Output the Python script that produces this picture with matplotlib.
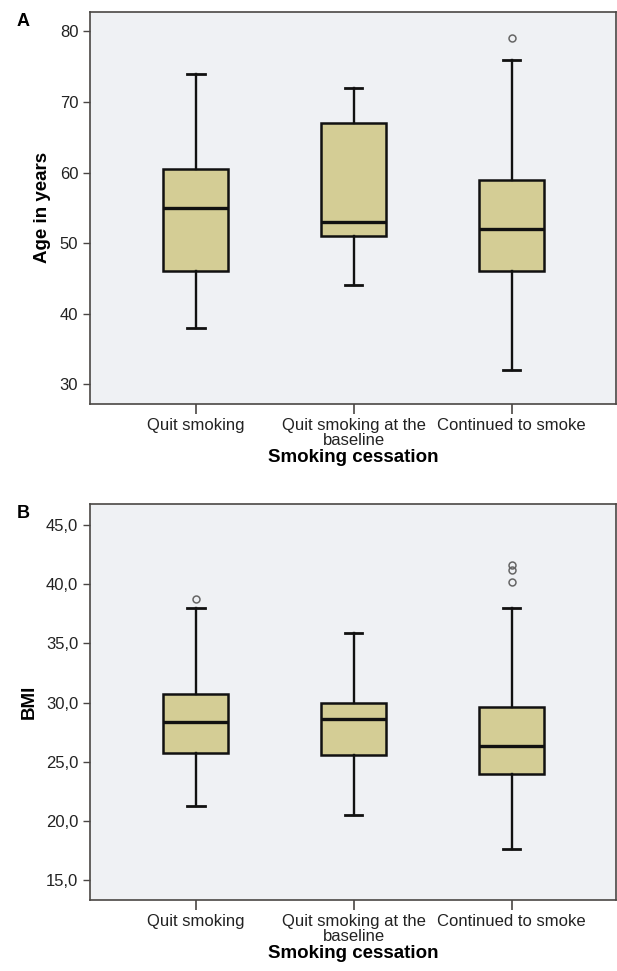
import matplotlib
matplotlib.use("Agg")
from matplotlib import pyplot as plt

plt.rcParams['font.family'] = ['Liberation Sans Narrow', 'Liberation Sans', 'DejaVu Sans']

groups = ["Quit smoking", "Quit smoking at the\nbaseline", "Continued to smoke"]

# Age in years: whisker low, Q1, median, Q3, whisker high, outliers
age_low = [38, 44, 32]
age_q1 = [46, 51, 46]
age_med = [55, 53, 52]
age_q3 = [60.5, 67, 59]
age_high = [74, 72, 76]
age_out = [[], [], [79]]

# BMI
bmi_low = [21.3, 20.5, 17.6]
bmi_q1 = [25.7, 25.6, 24.0]
bmi_med = [28.4, 28.6, 26.3]
bmi_q3 = [30.7, 30.0, 29.6]
bmi_high = [38.0, 35.9, 38.0]
bmi_out = [[38.8], [], [41.6, 41.25, 40.2]]

BOX = "#d4cd95"
BG = "#eff1f4"
FRAME = "#4a4744"


def stats(low, q1, med, q3, high, out):
    return [dict(whislo=a, q1=b, med=c, q3=d, whishi=e, fliers=f, label=g)
            for a, b, c, d, e, f, g in zip(low, q1, med, q3, high, out, groups)]


def panel(ax, st, ylabel, yticks, ylim, fmt, letter):
    ax.set_facecolor(BG)
    ax.bxp(st, positions=[1, 2, 3], widths=0.41, patch_artist=True,
           boxprops=dict(facecolor=BOX, edgecolor="#111111", linewidth=1.8),
           medianprops=dict(color="#111111", linewidth=2.4),
           whiskerprops=dict(color="#111111", linewidth=1.7),
           capprops=dict(color="#111111", linewidth=2.0),
           capwidths=0.11,
           flierprops=dict(marker="o", markersize=5, markerfacecolor="none",
                           markeredgecolor="#666666", markeredgewidth=1.1))
    ax.set_xlim(0.33, 3.66)
    ax.set_ylim(*ylim)
    ax.set_yticks(yticks)
    ax.set_yticklabels([fmt(v) for v in yticks])
    ax.set_ylabel(ylabel, fontsize=13.5, fontweight="bold", family="Liberation Sans", labelpad=6)
    ax.set_xlabel("Smoking cessation", fontsize=13.5, fontweight="bold", family="Liberation Sans", labelpad=1)
    ax.tick_params(axis="both", labelsize=12, color=FRAME, labelcolor="#222222")
    ax.tick_params(axis="y", length=5, width=1)
    ax.tick_params(axis="x", length=7, width=1.2)
    ax.xaxis.set_tick_params(pad=3)
    for lab in ax.get_xticklabels():
        lab.set_linespacing(1.0)
    for s in ["left", "bottom", "right", "top"]:
        ax.spines[s].set_color(FRAME)
        ax.spines[s].set_linewidth(1.2)
    ax.text(-0.14, 0.975, letter, transform=ax.transAxes, fontsize=13,
            fontweight="bold", family="Liberation Sans", ha="left", va="center")


fig = plt.figure(figsize=(6.17, 9.71), dpi=100)
fig.patch.set_facecolor("white")

ax1 = fig.add_axes([0.146, 0.584, 0.852, 0.404])
ax2 = fig.add_axes([0.146, 0.073, 0.852, 0.408])

panel(ax1, stats(age_low, age_q1, age_med, age_q3, age_high, age_out),
      "Age in years", [30, 40, 50, 60, 70, 80], (27.2, 82.8),
      lambda v: f"{v:d}", "A")
panel(ax2, stats(bmi_low, bmi_q1, bmi_med, bmi_q3, bmi_high, bmi_out),
      "BMI", [15, 20, 25, 30, 35, 40, 45], (13.3, 46.8),
      lambda v: f"{v:.1f}".replace(".", ","), "B")

fig.savefig("out.png", dpi=100)
